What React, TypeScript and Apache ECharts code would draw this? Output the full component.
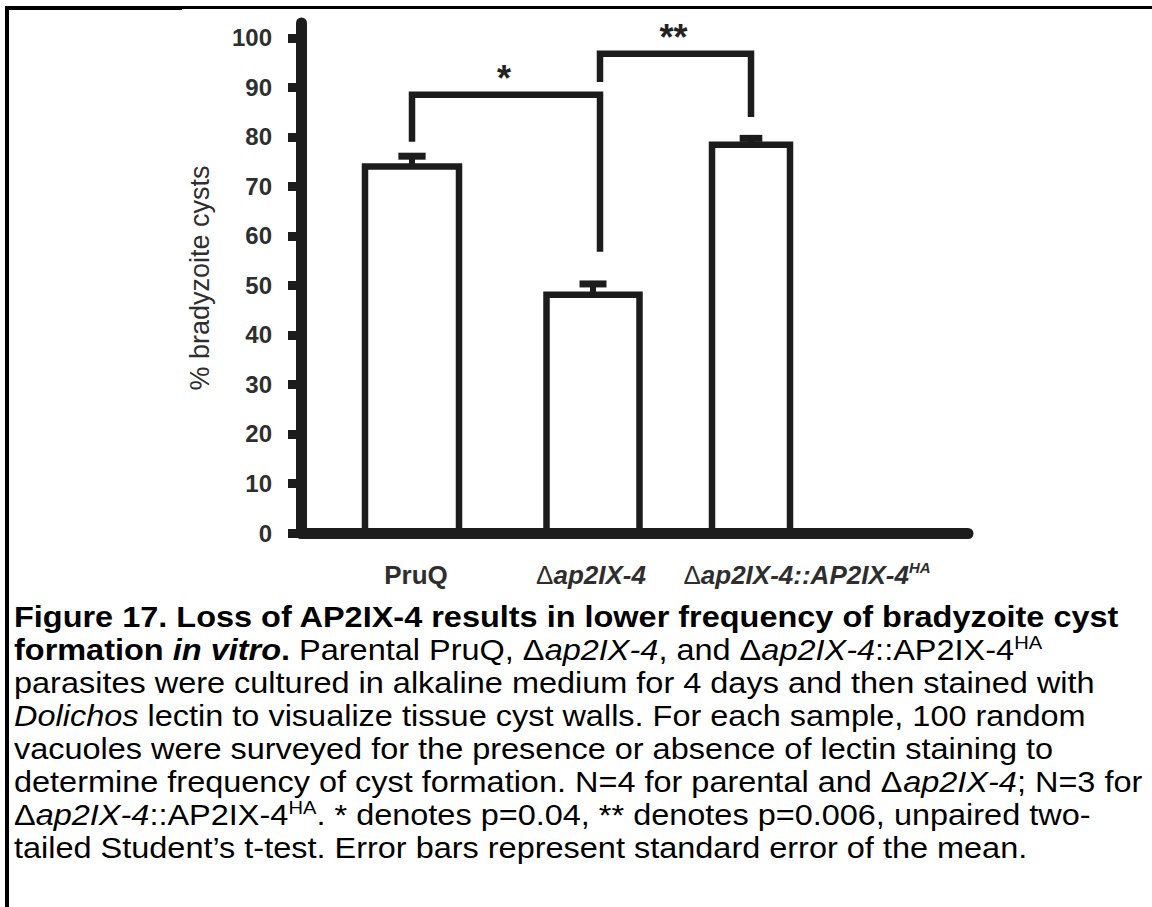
import React, { useEffect, useRef } from 'react';
import * as echarts from 'echarts';

// ---------- data ----------
const categories = ['PruQ', 'Δap2IX-4', 'Δap2IX-4::AP2IX-4HA'];
const meanValues = [74.0, 48.1, 78.4];
const semValues = [2.1, 2.2, 1.3];
const yTickValues = [0, 10, 20, 30, 40, 50, 60, 70, 80, 90, 100];
const yAxisTitle = '% bradyzoite cysts';

const sigFrom = [0, 1];
const sigTo = [1, 2];
const sigBracketLevel = [88.5, 96.8];
const sigLeftEnd = [79.0, 91.1];
const sigRightEnd = [56.8, 84.0];
const sigLabels = ['*', '**'];

const captionLines = [
  '{b|Figure 17. Loss of AP2IX-4 results in lower frequency of bradyzoite cyst}',
  '{b|formation }{bi|in vitro}{b|.}{n| Parental PruQ, Δ}{i|ap2IX-4}{n|, and Δ}{i|ap2IX-4}{n|::AP2IX-4}{sup|HA}',
  '{n|parasites were cultured in alkaline medium for 4 days and then stained with}',
  '{i|Dolichos}{n| lectin to visualize tissue cyst walls. For each sample, 100 random}',
  '{n|vacuoles were surveyed for the presence or absence of lectin staining to}',
  '{n|determine frequency of cyst formation. N=4 for parental and Δ}{i|ap2IX-4}{n|; N=3 for}',
  '{n|Δ}{i|ap2IX-4}{n|::AP2IX-4}{sup|HA}{n|. * denotes p=0.04, ** denotes p=0.006, unpaired two-}',
  '{n|tailed Student’s t-test. Error bars represent standard error of the mean.}',
];

// ---------- layout / style ----------
const W = 1152;
const H = 907;
const FONT = '"Liberation Sans", Arial, sans-serif';
const INK = '#1c1c1c';
const LABEL_INK = '#2e2e2e';
const AXIS_X = 301;
const AXIS_RIGHT = 968;
const PLOT_TOP = 23;
const BASE_Y = 533;
const Y_MAX = 103;
const CAT_LEFT = 327.25;
const CAT_RIGHT = 835.75;
const BAR_WIDTHS = [94, 93, 78];
const BAR_SHIFT = [0, 11.5, 0];
const BRACKET_SHIFT = [0, 18.5, 0];
const LABEL_SPACER = [8, 19, 112];
const CAPTION_X = 14;
const CAPTION_Y0 = 617;
const CAPTION_STEP = 33;
const CAPTION_SIZE = 29;
const CAPTION_SCALE = 1.12;

function labelFormatter(value: string, index: number) {
  const gap = `{g${index}| }`;
  if (index === 0) return `${gap}{b|${value}}`;
  const core = value.replace(/^Δ/, '');
  const m = core.match(/^(.*?)(HA)$/);
  if (m) return `${gap}{d|Δ}{bi|${m[1]}}{sup|${m[2]}}`;
  return `${gap}{d|Δ}{bi|${core}}`;
}

export default function App() {
  const ref = useRef<HTMLDivElement>(null);

  useEffect(() => {
    const el = ref.current;
    if (!el) return;
    const chart = echarts.init(el, null, { renderer: 'svg' });

    const barData = categories.map((_, i) => [i, meanValues[i], semValues[i]]);
    const sigData = sigFrom.map((f, i) => [f, sigTo[i], sigBracketLevel[i], sigLeftEnd[i], sigRightEnd[i]]);

    const capRich = {
      b: { fontFamily: FONT, fontSize: CAPTION_SIZE, fontWeight: 'bold', fill: '#000', lineHeight: CAPTION_STEP },
      bi: { fontFamily: FONT, fontSize: CAPTION_SIZE, fontWeight: 'bold', fontStyle: 'italic', fill: '#000', lineHeight: CAPTION_STEP },
      n: { fontFamily: FONT, fontSize: CAPTION_SIZE, fill: '#000', lineHeight: CAPTION_STEP },
      i: { fontFamily: FONT, fontSize: CAPTION_SIZE, fontStyle: 'italic', fill: '#000', lineHeight: CAPTION_STEP },
      sup: { fontFamily: FONT, fontSize: 18, fill: '#000', lineHeight: 20, verticalAlign: 'top' },
    };

    const labelRich: any = {
      b: { fontFamily: FONT, fontSize: 26, fontWeight: 'bold', color: LABEL_INK, lineHeight: 30 },
      bi: { fontFamily: FONT, fontSize: 26, fontWeight: 'bold', fontStyle: 'italic', color: LABEL_INK, lineHeight: 30 },
      d: { fontFamily: FONT, fontSize: 26, color: LABEL_INK, lineHeight: 30 },
      sup: { fontFamily: FONT, fontSize: 15, fontWeight: 'bold', fontStyle: 'italic', color: LABEL_INK, lineHeight: 14, verticalAlign: 'top' },
    };
    LABEL_SPACER.forEach((w, i) => {
      labelRich['g' + i] = { width: w, fontSize: 10, lineHeight: 30 };
    });

    const option: any = {
      animation: false,
      backgroundColor: '#ffffff',
      grid: [
        { left: AXIS_X, top: PLOT_TOP, width: AXIS_RIGHT - AXIS_X, height: BASE_Y - PLOT_TOP, outerBoundsMode: 'none' },
        { left: CAT_LEFT, top: PLOT_TOP, width: CAT_RIGHT - CAT_LEFT, height: BASE_Y - PLOT_TOP, outerBoundsMode: 'none' },
      ],
      xAxis: [
        {
          type: 'value', gridIndex: 0, min: 0, max: 1, z: 5,
          axisLine: { show: true, lineStyle: { color: INK, width: 11 } },
          axisTick: { show: false }, axisLabel: { show: false }, splitLine: { show: false },
        },
        {
          type: 'category', gridIndex: 1, data: categories, boundaryGap: true,
          axisLine: { show: false }, axisTick: { show: false }, splitLine: { show: false },
          axisLabel: { margin: 27, interval: 0, formatter: labelFormatter, rich: labelRich },
        },
      ],
      yAxis: [
        {
          type: 'value', gridIndex: 0, min: 0, max: Y_MAX, z: 5,
          axisLine: { show: true, lineStyle: { color: INK, width: 11 } },
          axisTick: { show: true, length: 13, customValues: yTickValues, lineStyle: { color: INK, width: 9 } },
          axisLabel: { customValues: yTickValues, margin: 29, fontSize: 24, fontWeight: 'bold', color: LABEL_INK, fontFamily: FONT },
          splitLine: { show: false },
          name: yAxisTitle, nameLocation: 'middle', nameGap: 88,
          nameTextStyle: { fontSize: 27, color: LABEL_INK, fontFamily: FONT },
        },
        {
          type: 'value', gridIndex: 1, min: 0, max: Y_MAX, show: false,
          splitLine: { show: false },
        },
      ],
      series: [
        {
          type: 'custom', name: 'bars', xAxisIndex: 1, yAxisIndex: 1, z: 2,
          data: barData, encode: { x: 0, y: [1, 2] },
          renderItem: (params: any, api: any) => {
            const i = params.dataIndex;
            const idx = api.value(0);
            const mean = api.value(1);
            const sem = api.value(2);
            const top = api.coord([idx, mean]);
            const base = api.coord([idx, 0]);
            const err = api.coord([idx, mean + sem]);
            const x = top[0] + BAR_SHIFT[i];
            const w = BAR_WIDTHS[i];
            const capW = w * 0.29;
            return {
              type: 'group',
              children: [
                { type: 'rect', shape: { x: x - w / 2, y: top[1], width: w, height: base[1] - top[1] },
                  style: { fill: '#ffffff', stroke: INK, lineWidth: 6.5 } },
                { type: 'line', shape: { x1: x, y1: top[1], x2: x, y2: err[1] },
                  style: { stroke: INK, lineWidth: 6 } },
                { type: 'line', shape: { x1: x - capW / 2, y1: err[1], x2: x + capW / 2, y2: err[1] },
                  style: { stroke: INK, lineWidth: 7 } },
              ],
            };
          },
        },
        {
          type: 'custom', name: 'significance', xAxisIndex: 1, yAxisIndex: 1, z: 3,
          data: sigData, encode: { x: [0, 1], y: [2, 3, 4] },
          renderItem: (params: any, api: any) => {
            const i = params.dataIndex;
            const f = api.value(0);
            const t = api.value(1);
            const lvl = api.coord([f, api.value(2)])[1];
            const xl = api.coord([f, 0])[0] + BRACKET_SHIFT[f];
            const xr = api.coord([t, 0])[0] + BRACKET_SHIFT[t];
            const yl = api.coord([f, api.value(3)])[1];
            const yr = api.coord([t, api.value(4)])[1];
            return {
              type: 'group',
              children: [
                { type: 'polyline', shape: { points: [[xl, yl], [xl, lvl], [xr, lvl], [xr, yr]] },
                  style: { stroke: INK, lineWidth: 6.5, fill: null, lineJoin: 'miter', lineCap: 'butt' } },
                { type: 'text', style: { text: sigLabels[i], x: (xl + xr) / 2 - 2, y: lvl - 16, align: 'center', verticalAlign: 'middle',
                  fontSize: 36, fontWeight: 'bold', fontFamily: FONT, fill: '#222' } },
              ],
            };
          },
        },
      ],
      graphic: [
        { type: 'rect', shape: { x: 5, y: 6, width: 177, height: 4 }, style: { fill: '#000' } },
        { type: 'rect', shape: { x: 182, y: 6, width: W - 182, height: 3 }, style: { fill: '#000' } },
        { type: 'rect', shape: { x: 5, y: 6, width: 4, height: H - 6 }, style: { fill: '#000' } },
        ...captionLines.map((line, k) => ({
          type: 'text', x: CAPTION_X, y: CAPTION_Y0 + CAPTION_STEP * k, scaleX: CAPTION_SCALE,
          style: { text: line, rich: capRich, align: 'left', verticalAlign: 'middle', fontFamily: FONT, fontSize: CAPTION_SIZE },
        })),
      ],
    };

    chart.setOption(option);
    return () => chart.dispose();
  }, []);

  return (
    <div
      ref={ref}
      style={{ position: 'absolute', left: 0, top: 0, width: W, height: H, background: '#ffffff' }}
    />
  );
}
